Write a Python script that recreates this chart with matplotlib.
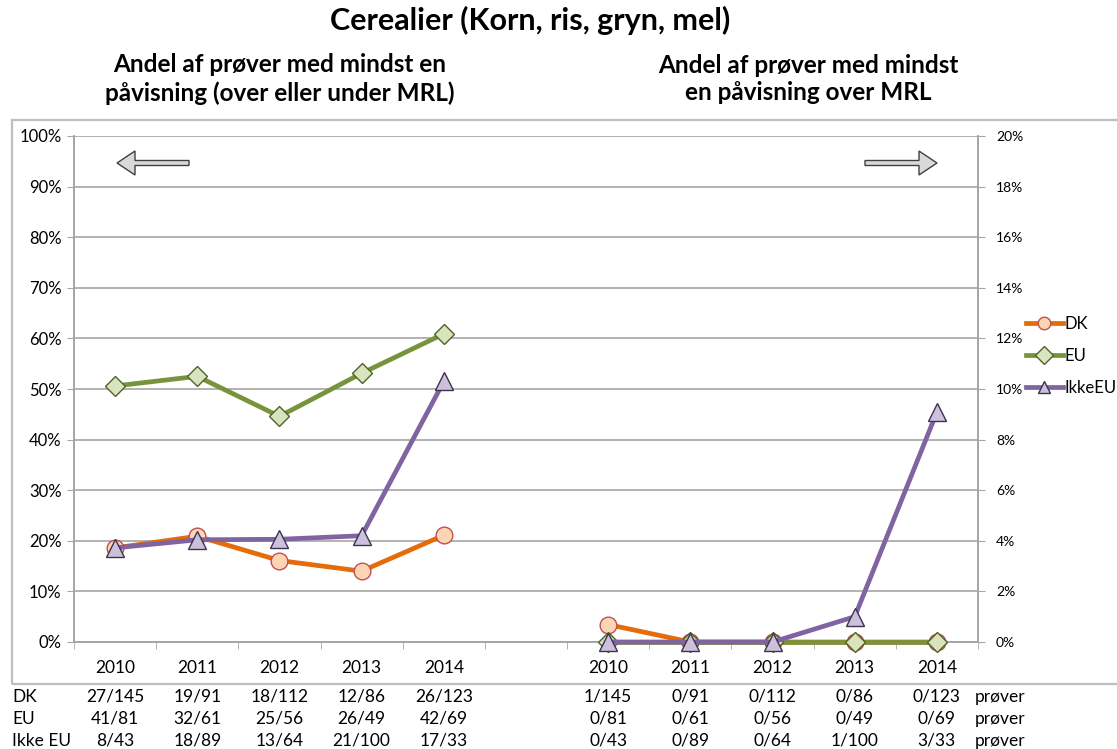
import numpy as np
import matplotlib.pyplot as plt
from matplotlib.patches import Rectangle, FancyArrow
from matplotlib.ticker import FuncFormatter, MultipleLocator

plt.rcParams['font.family'] = ['Lato', 'DejaVu Sans']

years = ['2010', '2011', '2012', '2013', '2014']

# Left group: share of samples with at least one detection (%)
dk_any = [18.6, 20.9, 16.1, 14.0, 21.1]
eu_any = [50.6, 52.5, 44.6, 53.1, 60.9]
ikke_any = [18.6, 20.2, 20.3, 21.0, 51.5]

# Right group: share of samples with detection over MRL (%)
dk_mrl = [0.69, 0.0, 0.0, 0.0, 0.0]
eu_mrl = [0.0, 0.0, 0.0, 0.0, 0.0]
ikke_mrl = [0.0, 0.0, 0.0, 1.0, 9.09]

# Table counts below the chart
row_names = ['DK', 'EU', 'Ikke EU']
any_counts = [['27/145', '19/91', '18/112', '12/86', '26/123'],
              ['41/81', '32/61', '25/56', '26/49', '42/69'],
              ['8/43', '18/89', '13/64', '21/100', '17/33']]
mrl_counts = [['1/145', '0/91', '0/112', '0/86', '0/123'],
              ['0/81', '0/61', '0/56', '0/49', '0/69'],
              ['0/43', '0/89', '0/64', '1/100', '3/33']]

styles = {
    'DK': dict(color='#E46C0A', marker='o', mfc='#FCD5B5', mec='#C0504D', ms=12),
    'EU': dict(color='#77933C', marker='D', mfc='#D7E4BD', mec='#4F6228', ms=10),
    'IkkeEU': dict(color='#8064A2', marker='^', mfc='#CCC1DA', mec='#3F3151', ms=13),
}

W, H = 1117, 749
fig = plt.figure(figsize=(W / 100, H / 100), dpi=100)

def fx(px):
    return px / W

def fy(py):
    return 1 - py / H

# outer chart frame
fig.patches.append(Rectangle((fx(12), fy(684)), fx(1130) - fx(12), fy(120) - fy(684),
                             transform=fig.transFigure, fill=False,
                             edgecolor='#BFBFBF', lw=1.6))

ax = fig.add_axes([fx(74), fy(642), fx(978) - fx(74), fy(136) - fy(642)])
ax2 = ax.twinx()

left_x = np.arange(5)
right_x = np.arange(6, 11)

for name, vals in [('DK', dk_any), ('EU', eu_any), ('IkkeEU', ikke_any)]:
    s = styles[name]
    ax.plot(left_x, vals, lw=3.4, marker=s['marker'], color=s['color'],
            mfc=s['mfc'], mec=s['mec'], ms=s['ms'], mew=1, clip_on=False, zorder=3)

for name, vals in [('DK', dk_mrl), ('EU', eu_mrl), ('IkkeEU', ikke_mrl)]:
    s = styles[name]
    ax2.plot(right_x, vals, lw=3.4, marker=s['marker'], color=s['color'],
             mfc=s['mfc'], mec=s['mec'], ms=s['ms'], mew=1, clip_on=False,
             zorder=3, label=name)

ax.set_xlim(-0.5, 10.5)
ax.set_ylim(0, 100)
ax2.set_ylim(0, 20)
ax.yaxis.set_major_locator(MultipleLocator(10))
ax2.yaxis.set_major_locator(MultipleLocator(2))
pct = FuncFormatter(lambda v, p: f'{v:.0f}%')
ax.yaxis.set_major_formatter(pct)
ax2.yaxis.set_major_formatter(pct)

ax.set_xticks(list(left_x) + list(right_x))
ax.set_xticklabels(years + years)
ax.set_xticks(np.arange(-0.5, 11, 1), minor=True)
ax.tick_params(axis='x', which='major', length=0, pad=13, labelsize=12.5)
ax.tick_params(axis='x', which='minor', length=5, color='#A6A6A6', direction='out')
ax.tick_params(axis='y', length=5, color='#A6A6A6', labelsize=12, pad=4)
ax2.tick_params(axis='y', length=5, color='#A6A6A6', labelsize=10, pad=8)

ax.grid(axis='y', color='#A6A6A6', lw=1.2)
ax.set_axisbelow(True)
for a in (ax, ax2):
    a.spines['top'].set_visible(False)
    for sp in ('left', 'right', 'bottom'):
        a.spines[sp].set_color('#A6A6A6')
        a.spines[sp].set_linewidth(1.2)

leg = ax2.legend(loc='center left', bbox_to_anchor=(fx(1026), fy(356)),
                 bbox_transform=fig.transFigure, frameon=False, fontsize=12,
                 handlelength=2.2, labelspacing=0.95, handletextpad=0.1,
                 borderaxespad=0, borderpad=0)
for h in leg.legend_handles:
    h.set_markersize(9)

# arrows showing which axis each group uses
def arrow(x0, x1):
    fig.patches.append(FancyArrow(fx(x0), fy(163), fx(x1) - fx(x0), 0,
                                  width=5 / H, head_width=24 / H,
                                  head_length=18 / W, length_includes_head=True,
                                  transform=fig.transFigure, facecolor='#D9D9D9',
                                  edgecolor='#404040', lw=1))

arrow(189, 117)
arrow(865, 937)

# titles
fig.text(fx(530), fy(20), 'Cerealier (Korn, ris, gryn, mel)', ha='center', va='center',
         fontsize=22, fontweight='bold')
fig.text(fx(280), fy(79), 'Andel af prøver med mindst en\npåvisning (over eller under MRL)',
         ha='center', va='center', fontsize=17.5, fontweight='bold', linespacing=1.25)
fig.text(fx(808), fy(79), 'Andel af prøver med mindst\nen påvisning over MRL',
         ha='center', va='center', fontsize=17.5, fontweight='bold', linespacing=1.25)

# count table
row_y = [697, 719, 741]
for i, name in enumerate(row_names):
    y = fy(row_y[i])
    fig.text(fx(12), y, name, ha='left', va='center', fontsize=12.5)
    for j in range(5):
        xl = ax.transData.transform((left_x[j], 0))[0] / W
        xr = ax.transData.transform((right_x[j], 0))[0] / W
        fig.text(xl, y, any_counts[i][j], ha='center', va='center', fontsize=12.5)
        fig.text(xr, y, mrl_counts[i][j], ha='center', va='center', fontsize=12.5)
    fig.text(fx(975), y, 'prøver', ha='left', va='center', fontsize=12.5)

fig.savefig('out.png', dpi=100)
